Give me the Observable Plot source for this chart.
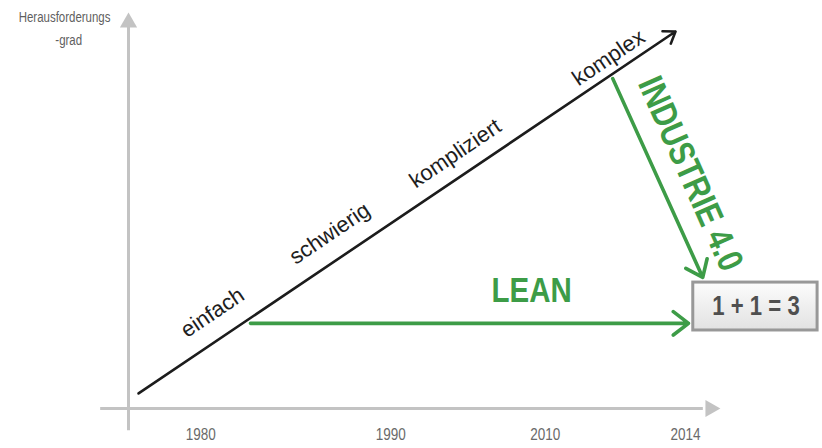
<!DOCTYPE html>
<html><head><meta charset="utf-8">
<script src="https://cdn.jsdelivr.net/npm/d3@7"></script>
<script src="https://cdn.jsdelivr.net/npm/@observablehq/plot@0.6"></script>
<style>body{margin:0;background:#fff;}</style>
</head><body><div id="chart"></div>
<script>
// Axis title (y) and x tick labels
const yTitleLines = ["Herausforderungs", "-grad"];
const yTitleX = [-10.8, -10.1];
const yTitleY = [98.7, 92.9];
const tickLabels = ["1980", "1990", "2010", "2014"];
const tickX = [12.2, 44.3, 70.4, 94.1];

// Challenge stages along the diagonal
const stages = ["einfach", "schwierig", "kompliziert", "komplex"];
const stageX = [14.2, 34.0, 55.2, 81.1];
const stageY = [24.2, 44.2, 64.4, 88.6];

// Arrows: challenge trend, LEAN, INDUSTRIE 4.0
const arrowNames = ["Herausforderung", "LEAN", "INDUSTRIE 4.0"];
const arrowX1 = [1.7, 20.6, 81.8];
const arrowY1 = [3.8, 21.5, 83.3];
const arrowX2 = [92.4, 94.6, 97.0];
const arrowY2 = [95.2, 21.5, 33.1];

// Arrow labels
const arrowLabels = ["LEAN", "INDUSTRIE 4.0"];
const arrowLabelX = [68.1, 94.9];
const arrowLabelY = [29.8, 59.3];

// Result box
const resultText = ["1 + 1 = 3"];
const resultBox = { x1: 95.4, x2: 116.4, y1: 19.7, y2: 31.8, cx: 106.0, cy: 25.8 };

const GREEN = "#3d9c47";
const GRAY = "#c3c3c3";
const NARROW = "'Liberation Sans Narrow', 'Liberation Sans', Arial, sans-serif";
const SANS = "'Liberation Sans', Arial, sans-serif";

const arrows = arrowNames.map((n, i) => ({ n, x1: arrowX1[i], y1: arrowY1[i], x2: arrowX2[i], y2: arrowY2[i] }));
const stageData = stages.map((s, i) => ({ s, x: stageX[i], y: stageY[i] }));
const titleData = yTitleLines.map((t, i) => ({ t, x: yTitleX[i], y: yTitleY[i] }));
const labelData = arrowLabels.map((t, i) => ({ t, x: arrowLabelX[i], y: arrowLabelY[i] }));
const tickMap = new Map(tickX.map((x, i) => [x, tickLabels[i]]));

const plot = Plot.plot({
  width: 822,
  height: 448,
  marginLeft: 128,
  marginRight: 102,
  marginTop: 12,
  marginBottom: 40,
  x: { domain: [0, 100], axis: null },
  y: { domain: [0, 100], axis: null },
  style: { background: "#fff", overflow: "visible" },
  marks: [
    // gray axes
    Plot.ruleX([0], { y1: -5.6, y2: 96.7, stroke: GRAY, strokeWidth: 3 }),
    Plot.ruleY([0], { x1: -4.7, x2: 97.1, stroke: GRAY, strokeWidth: 3 }),
    Plot.dot([{ x: 0, y: 97.5 }], { x: "x", y: "y", symbol: "triangle", r: 6.4, fill: GRAY, stroke: "none" }),
    Plot.dot([{ x: 98.3, y: 0 }], { x: "x", y: "y", symbol: "triangle", r: 6.4, fill: GRAY, stroke: "none", rotate: 90 }),
    Plot.axisX({ ticks: tickX, tickFormat: (d) => tickMap.get(d), tickSize: 0, tickPadding: 20,
      fontSize: 16.5, fontFamily: NARROW, fill: "#6a6a6a", anchor: "bottom" }),
    Plot.text(titleData, { x: "x", y: "y", text: "t", fontSize: 14, fontFamily: NARROW, fill: "#5f5f5f" }),
    // trend arrow
    Plot.arrow(arrows.slice(0, 1), { x1: "x1", y1: "y1", x2: "x2", y2: "y2", stroke: "#1c1c1c", strokeWidth: 2.6, headLength: 7.5, headAngle: 70 }),
    // green arrows
    Plot.arrow(arrows.slice(1), { x1: "x1", y1: "y1", x2: "x2", y2: "y2", stroke: GREEN, strokeWidth: 3.6, headLength: 8, headAngle: 75 }),
    // stage labels
    Plot.text(stageData, { x: "x", y: "y", text: "s", rotate: -34, fontSize: 22, fontFamily: SANS, fill: "#1e1e1e" }),
    // LEAN / INDUSTRIE labels
    Plot.text(labelData.slice(0, 1), { x: "x", y: "y", text: "t", fontSize: 36, fontWeight: "bold", fontFamily: NARROW, fill: GREEN }),
    Plot.text(labelData.slice(1), { x: "x", y: "y", text: "t", rotate: 66, fontSize: 36, fontWeight: "bold", fontFamily: NARROW, fill: GREEN }),
    // result box
    Plot.rect([resultBox], { x1: "x1", x2: "x2", y1: "y1", y2: "y2", fill: "url(#boxGrad)", stroke: "#989898", strokeWidth: 3 }),
    Plot.text([resultBox], { x: "cx", y: "cy", text: () => resultText[0], fontSize: 27, fontWeight: "bold", fontFamily: NARROW, fill: "#4f4f4f" })
  ]
});

// gradient definition for the result box
const ns = "http://www.w3.org/2000/svg";
const defs = document.createElementNS(ns, "defs");
defs.innerHTML = '<linearGradient id="boxGrad" x1="0" y1="0" x2="0" y2="1">' +
  '<stop offset="0" stop-color="#fcfcfc"/><stop offset="1" stop-color="#e2e2e2"/></linearGradient>';
plot.insertBefore(defs, plot.firstChild);

// condense the "narrow" texts horizontally (narrow font not installed)
plot.querySelectorAll('[font-family*="Narrow"] text, text[font-family*="Narrow"]').forEach((t) => {
  const x = +t.getAttribute("x") || 0, y = +t.getAttribute("y") || 0;
  const T = t.getAttribute("transform") || "";
  t.setAttribute("transform", `${T} translate(${x},${y}) scale(0.82,1) translate(${-x},${-y})`);
});
document.getElementById("chart").appendChild(plot);
</script>
</body></html>
